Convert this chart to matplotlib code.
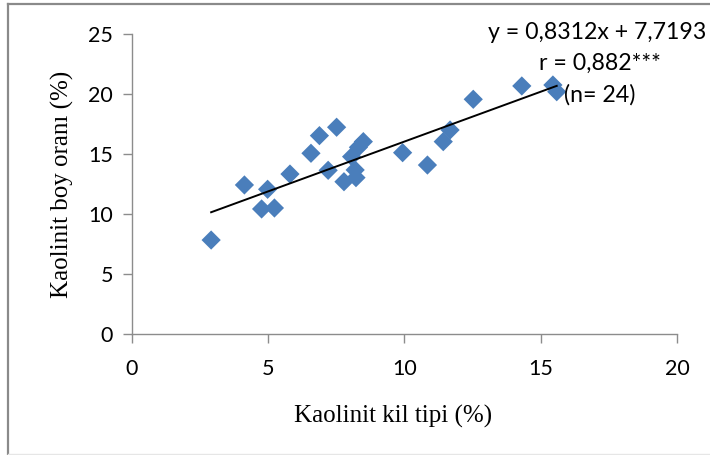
import matplotlib
matplotlib.use("Agg")
import matplotlib.pyplot as plt
from matplotlib.lines import Line2D
import numpy as np

# Data
kaolinit_kil_tipi = [2.92, 4.14, 4.77, 4.99, 5.24, 5.81, 6.58, 6.89, 7.21, 7.52, 7.79, 8.07,
                     8.20, 8.23, 8.32, 8.50, 9.94, 10.85, 11.43, 11.68, 12.53, 14.31, 15.45, 15.59]
kaolinit_boy_orani = [7.83, 12.42, 10.42, 12.06, 10.50, 13.33, 15.06, 16.53, 13.64, 17.23, 12.69, 14.78,
                      13.67, 13.03, 15.56, 16.03, 15.11, 14.08, 16.03, 17.00, 19.56, 20.67, 20.75, 20.19]
slope = 0.8312
intercept = 7.7193
x_ticks = [0, 5, 10, 15, 20]
y_ticks = [0, 5, 10, 15, 20, 25]
annotation_lines = ["y = 0,8312x + 7,7193", "r = 0,882***", "(n= 24)"]
x_label = "Kaolinit kil tipi (%)"
y_label = "Kaolinit boy oranı (%)"

W, H = 710, 455
fig = plt.figure(figsize=(W / 100, H / 100), dpi=100)
ax = fig.add_axes([131.5 / W, 1 - 334 / H, (677 - 131.5) / W, (334 - 34) / H])

ax.scatter(kaolinit_kil_tipi, kaolinit_boy_orani, marker="D", s=9.8 ** 2,
           color="#4A7EBB", edgecolors="none", zorder=3, clip_on=False)

xs = np.array([min(kaolinit_kil_tipi), max(kaolinit_kil_tipi)])
ax.plot(xs, slope * xs + intercept, color="black", lw=1.4, zorder=4)

ax.set_xlim(0, 20)
ax.set_ylim(0, 25)
ax.set_xticks(x_ticks)
ax.set_yticks(y_ticks)

for s in ["top", "right"]:
    ax.spines[s].set_visible(False)
for s in ["left", "bottom"]:
    ax.spines[s].set_color("#8C8C8C")
    ax.spines[s].set_linewidth(1.0)

ax.tick_params(axis="both", direction="out", length=6.3, width=1.0, color="#8C8C8C",
               labelsize=15.5, labelcolor="black")
ax.tick_params(axis="x", pad=12)
ax.tick_params(axis="y", pad=7)
for lab in ax.get_xticklabels() + ax.get_yticklabels():
    lab.set_family("Lato")

ax.set_xlabel(x_label, family="Liberation Serif", fontsize=18, labelpad=15)
ax.xaxis.set_label_coords((393 - 131.5) / (677 - 131.5), -0.235)
ax.set_ylabel(y_label, family="Liberation Serif", fontsize=18, labelpad=10)

ys_px = [32.7, 63, 95]
xs_px = [597, 600, 600]
for txt, xp, yp in zip(annotation_lines, xs_px, ys_px):
    fig.text(xp / W, 1 - yp / H, txt, family="Lato", fontsize=16.7,
             ha="center", va="center")

# figure border
fig.add_artist(Line2D([7.5 / W, 7.5 / W], [0, 1 - 3.5 / H], transform=fig.transFigure,
                      color="#8A8A8A", lw=1.6))
fig.add_artist(Line2D([7.5 / W, 1], [1 - 3.5 / H, 1 - 3.5 / H], transform=fig.transFigure,
                      color="#8A8A8A", lw=1.6))
fig.add_artist(Line2D([7.5 / W, 1], [1 - 453.5 / H, 1 - 453.5 / H], transform=fig.transFigure,
                      color="#E6E6E6", lw=1.0))

fig.savefig("out.png", dpi=100)
